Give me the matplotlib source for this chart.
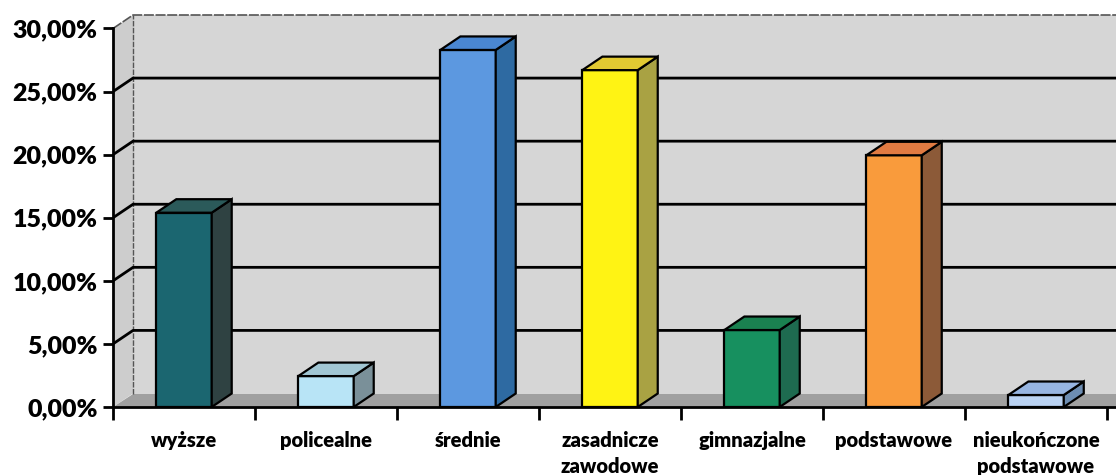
import matplotlib.pyplot as plt
from matplotlib.patches import Polygon
from matplotlib.ticker import FuncFormatter

# dane
kategorie = ["wyższe", "policealne", "średnie", "zasadnicze\nzawodowe",
             "gimnazjalne", "podstawowe", "nieukończone\npodstawowe"]
wartosci = [15.4, 2.45, 28.3, 26.7, 6.1, 19.95, 0.95]
kolory_przod = ["#1b6670", "#b8e4f6", "#5c98e0", "#fff314", "#17905f", "#f99b3c", "#bad3f3"]
kolory_bok = ["#2f4242", "#7a9099", "#2e6aa2", "#a9a243", "#1e6b50", "#8c5a38", "#6d8db2"]
kolory_gora = ["#2b5a5a", "#a1c6d3", "#4a87d2", "#e2ca32", "#1a8150", "#e17b42", "#97b5e1"]
yticks = [0, 5, 10, 15, 20, 25, 30]

plt.rcParams['font.family'] = ['Lato', 'DejaVu Sans']

fig = plt.figure(figsize=(11.16, 4.75), dpi=100)
ax = fig.add_axes([113/1116, 68/475, 1003/1116, 392/475])

dx = 0.141   # glebokosc 3D w jednostkach kategorii
dy = 1.07    # glebokosc 3D w procentach
xmax = 7.063
szer = 0.39

ax.set_xlim(0, xmax)
ax.set_ylim(0, 30 + dy)

# sciany
ax.add_patch(Polygon([(0, 0), (dx, dy), (dx, 30 + dy), (0, 30)],
                     closed=True, facecolor="#cdcdcd", edgecolor="none", zorder=0))
ax.add_patch(Polygon([(dx, dy), (xmax, dy), (xmax, 30 + dy), (dx, 30 + dy)],
                     closed=True, facecolor="#d6d6d6", edgecolor="none", zorder=0))
ax.add_patch(Polygon([(0, 0), (xmax, 0), (xmax, dy), (dx, dy)],
                     closed=True, facecolor="#a0a0a0", edgecolor="none", zorder=0))
ax.plot([dx, dx], [dy, 30 + dy], color="#555555", lw=1, ls=(0, (4, 1)), zorder=1)
ax.plot([0, dx, xmax], [30, 30 + dy, 30 + dy], color="#555555", lw=1.2, ls=(0, (6, 1)),
        zorder=1, clip_on=False)

# linie siatki
for t in yticks[1:-1]:
    ax.plot([0, dx, xmax], [t, t + dy, t + dy], color="black", lw=2, zorder=1)

# slupki
for i, v in enumerate(wartosci):
    x0 = i + 0.5 - szer / 2
    x1 = x0 + szer
    ax.bar(i + 0.5, v, width=szer, color=kolory_przod[i], edgecolor="black",
           linewidth=1.6, zorder=3)
    ax.add_patch(Polygon([(x1, 0), (x1 + dx, dy), (x1 + dx, v + dy), (x1, v)],
                         closed=True, facecolor=kolory_bok[i], edgecolor="black",
                         linewidth=1.6, zorder=3))
    ax.add_patch(Polygon([(x0, v), (x0 + dx, v + dy), (x1 + dx, v + dy), (x1, v)],
                         closed=True, facecolor=kolory_gora[i], edgecolor="black",
                         linewidth=1.6, zorder=3))

# osie
for s in ["top", "right"]:
    ax.spines[s].set_visible(False)
ax.spines["left"].set_bounds(0, 30)
ax.spines["left"].set_linewidth(2)
ax.spines["bottom"].set_linewidth(2)
ax.spines["left"].set_zorder(4)
ax.spines["bottom"].set_zorder(4)

ax.set_yticks(yticks)
ax.yaxis.set_major_formatter(FuncFormatter(lambda v, p: f"{v:.2f}%".replace(".", ",")))
ax.tick_params(axis="y", direction="out", length=7, width=2, pad=4,
               labelsize=18)
for lab in ax.get_yticklabels():
    lab.set_fontweight("heavy")

ax.set_xticks(range(8))
ax.set_xticklabels([])
ax.tick_params(axis="x", which="major", direction="out", length=9, width=2)
ax.set_xticks([i + 0.5 for i in range(7)], minor=True)
ax.set_xticklabels(kategorie, minor=True, fontsize=14.5, fontweight="heavy",
                   linespacing=1.45, va="top")
ax.tick_params(axis="x", which="minor", length=0, pad=17)

fig.savefig("out.png", dpi=100)
